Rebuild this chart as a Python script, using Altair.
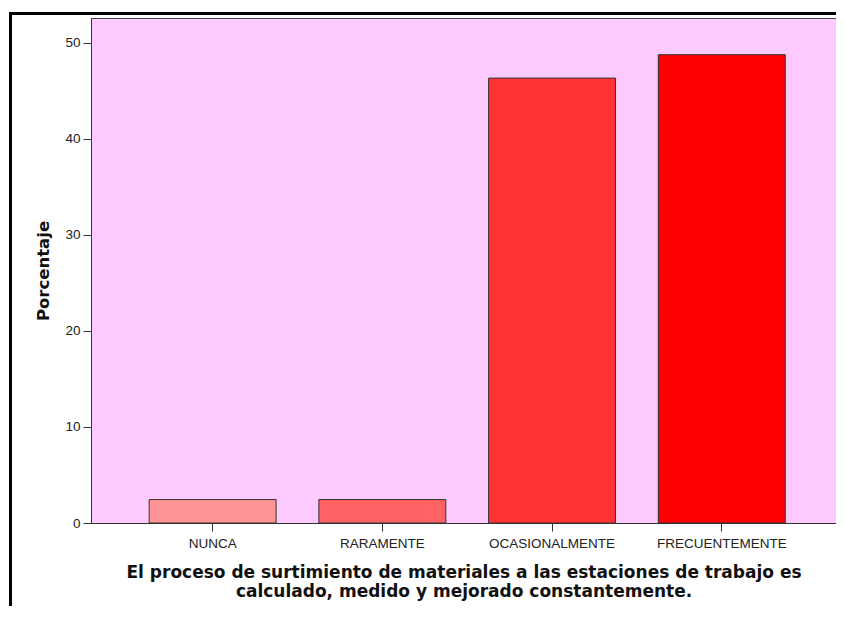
import altair as alt
import pandas as pd

categories = ["NUNCA", "RARAMENTE", "OCASIONALMENTE", "FRECUENTEMENTE"]
percentages = [2.44, 2.44, 46.34, 48.78]
bar_colors = ["#FF9494", "#FF6262", "#FF3333", "#FF0000"]
y_ticks = [0, 10, 20, 30, 40, 50]
x_title = [
    "El proceso de surtimiento de materiales a las estaciones de trabajo es",
    "calculado, medido y mejorado constantemente.",
]
y_title = "Porcentaje"

df = pd.DataFrame({"cat": categories, "pct": percentages})

W, H = 745, 505

bars = alt.Chart(df).mark_bar(stroke="#333333", strokeWidth=1).encode(
    x=alt.X(
        "cat:N",
        sort=categories,
        scale=alt.Scale(paddingInner=0.252, paddingOuter=0.321, align=0.534),
        axis=alt.Axis(
            title=x_title,
            labelAngle=0,
            labelFont="Liberation Sans",
            labelFontSize=13.5,
            labelColor="#222222",
            labelBaseline="alphabetic",
            labelPadding=16,
            tickSize=8,
            tickColor="#333333",
            domainColor="#333333",
            titleFont="DejaVu Sans",
            titleFontSize=17,
            titleFontWeight="bold",
            titleColor="#111111",
            titleLineHeight=19,
            titleBaseline="alphabetic",
            titleY=54,
        ),
    ),
    y=alt.Y(
        "pct:Q",
        scale=alt.Scale(domain=[0, 52.6], nice=False, zero=True),
        axis=alt.Axis(
            title=y_title,
            values=y_ticks,
            grid=False,
            labelFont="Liberation Sans",
            labelFontSize=13.5,
            labelColor="#222222",
            labelPadding=3,
            tickSize=8,
            tickColor="#333333",
            domainColor="#333333",
            titleFont="DejaVu Sans",
            titleFontSize=16.5,
            titleFontWeight="bold",
            titleColor="#111111",
            titleBaseline="alphabetic",
            titleAngle=-90,
            titleX=-43,
            titleY=H / 2,
            titleAlign="center",
        ),
    ),
    color=alt.Color("cat:N", sort=categories,
                    scale=alt.Scale(domain=categories, range=bar_colors),
                    legend=None),
)

frame_data = alt.Data(values=[{}])
frame_top = alt.Chart(frame_data).mark_rule(color="black", strokeWidth=3).encode(
    x=alt.value(-82), x2=alt.value(760), y=alt.value(-4.5)
)
frame_left = alt.Chart(frame_data).mark_rule(color="black", strokeWidth=3).encode(
    x=alt.value(-80.5), y=alt.value(-6), y2=alt.value(620)
)

chart = alt.layer(bars, frame_top, frame_left).properties(
    width=W,
    height=H,
    autosize=alt.AutoSizeParams(type="none"),
    padding={"left": 83, "top": 10, "right": 0, "bottom": 83},
    background="white",
).configure_view(
    fill="#FCCAFE", stroke="#444444", strokeWidth=1
)

chart.save("out.html", embed_options={"renderer": "svg", "actions": False})
